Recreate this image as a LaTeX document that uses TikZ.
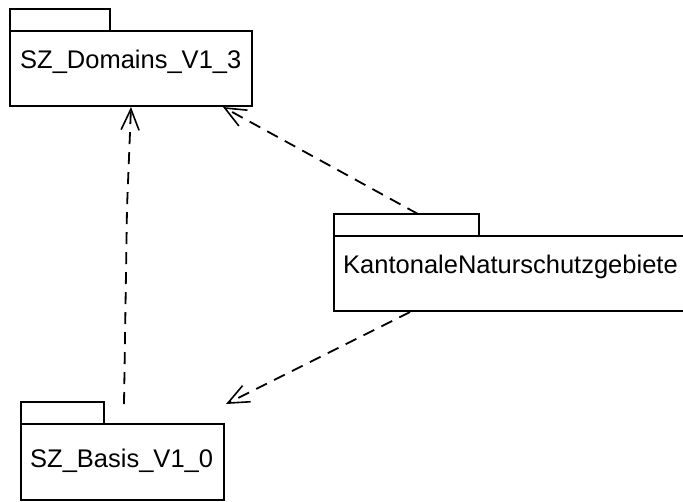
\documentclass[tikz,border=0pt]{standalone}
\usepackage{fontspec}
\setmainfont{Liberation Sans}
\usetikzlibrary{arrows.meta}
\begin{document}
\begin{tikzpicture}[x=1pt,y=-1pt,
  pkgbody/.style={draw=black,line width=2pt,fill=white,rectangle,inner sep=0pt,outer sep=0pt,anchor=north west},
  pkgtab/.style={draw=black,line width=2pt,fill=white,rectangle,inner sep=0pt,outer sep=0pt,anchor=south west,minimum height=22pt},
  pkglabel/.style={anchor=base west,inner sep=0pt,font=\fontsize{25.5}{28}\selectfont},
  dep/.style={line width=1.8pt,dash pattern=on 12pt off 8pt,-{Straight Barb[length=21pt,width=18pt,line width=1.6pt]}}]
\useasboundingbox (0,0) rectangle (683,501);
\fill[white] (0,0) rectangle (683,501);
% SZ_Domains_V1_3
\node[pkgbody,minimum width=242pt,minimum height=75pt] (dom) at (10,31) {};
\node[pkgtab,minimum width=100pt] (domtab) at (dom.north west) {};
\node[pkglabel] (domlabel) at (20,68) {SZ\_Domains\_V1\_3};
% KantonaleNaturschutzgebiete
\node[pkgbody,minimum width=355pt,minimum height=75pt] (kan) at (334,236) {};
\node[pkgtab,minimum width=145pt] (kantab) at (kan.north west) {};
\node[pkglabel] (kanlabel) at (343,273) {KantonaleNaturschutzgebiete};
% SZ_Basis_V1_0
\node[pkgbody,minimum width=203pt,minimum height=76pt] (bas) at (21,424) {};
\node[pkgtab,minimum width=83pt] (bastab) at (bas.north west) {};
\node[pkglabel] (baslabel) at (30,467) {SZ\_Basis\_V1\_0};
% connector end points
\coordinate (basTop) at (124,404);
\coordinate (bend1) at (127,208);
\coordinate (domIn1) at (131,107);
\coordinate (kanTop) at (418,214);
\coordinate (domIn2) at (223,107);
\coordinate (kanBot) at (410,312);
\coordinate (basNear) at (226,404);
% dependencies
\draw[dep] (basTop) -- (bend1) -- (domIn1);
\draw[dep] (kanTop) -- (domIn2);
\draw[dep] (kanBot) -- (basNear);
\end{tikzpicture}
\end{document}
